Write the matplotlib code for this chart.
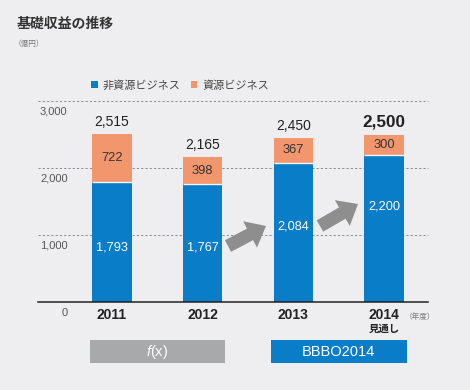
import matplotlib
matplotlib.use("Agg")
import matplotlib.pyplot as plt
import matplotlib.transforms as mtransforms
from matplotlib.patches import Rectangle, FancyArrowPatch, ArrowStyle

plt.rcParams['font.family'] = ['Liberation Sans', 'Noto Sans CJK JP', 'DejaVu Sans']
plt.rcParams['mathtext.fontset'] = 'custom'
plt.rcParams['mathtext.it'] = 'Liberation Sans:italic'
plt.rcParams['mathtext.rm'] = 'Liberation Sans'

# ---- data ----
years = ['2011', '2012', '2013', '2014']
non_resource = [1793, 1767, 2084, 2200]
resource = [722, 398, 367, 300]
totals = [2515, 2165, 2450, 2500]
y_ticks = [0, 1000, 2000, 3000]
y_tick_labels = ['0', '1,000', '2,000', '3,000']
legend_labels = ['非資源ビジネス', '資源ビジネス']
title = '基礎収益の推移'
unit = '（億円）'
year_unit = '（年度）'
forecast_note = '見通し'
box_labels = ['$f$(x)', 'BBBO2014']

# ---- style / layout ----
BG = '#EEEEF0'
BLUE = '#0A7DC9'
ORANGE = '#F2966E'
GRAY_BOX = '#A7A9AB'
ARROW = '#8E8E8E'
bar_w = 0.435
blue_label_pos = [821, 825, 1128, 1437]  # label anchor heights inside blue bars

W, H = 470, 390
fig = plt.figure(figsize=(W / 100, H / 100), dpi=100, facecolor=BG)
ax = fig.add_axes([38 / W, (H - 302.3) / H, (428 - 38) / W, (302.3 - 101.3) / H])
ax.set_facecolor(BG)
ax.set_xlim(-0.816, 3.484)
ax.set_ylim(0, 3000)
for s in ax.spines.values():
    s.set_visible(False)

x = list(range(len(years)))

# gridlines
for t in y_ticks[1:]:
    ax.axhline(t, color='#8A8A8A', lw=0.7, ls=(0, (2.2, 2.2)), zorder=0, clip_on=False)
ax.axhline(0, color='#222222', lw=1.1, zorder=3, clip_on=False)

b1 = ax.bar(x, non_resource, width=bar_w, color=BLUE, zorder=2, label=legend_labels[0])
b2 = ax.bar(x, resource, width=bar_w, bottom=non_resource, color=ORANGE, zorder=2,
            label=legend_labels[1])
ax.hlines(non_resource, [i - bar_w / 2 for i in x], [i + bar_w / 2 for i in x],
          color='#F4F4F4', lw=1.0, zorder=2.5)

# value labels
for i in x:
    ax.text(i, blue_label_pos[i], f'{non_resource[i]:,}', ha='center', va='center',
            color='white', fontsize=9.2, zorder=4)
    ax.text(i, non_resource[i] + resource[i] / 2, f'{resource[i]:,}', ha='center',
            va='center', color='#333333', fontsize=9.3, zorder=4)
    last = i == len(x) - 1
    off = mtransforms.offset_copy(ax.transData, fig=fig, y=12 if not last else 13, units='dots')
    ax.text(i, totals[i], f'{totals[i]:,}', ha='center', va='center', transform=off,
            color='#222222', fontsize=12.3 if last else 10, fontweight='bold' if last else 'normal',
            zorder=4)

# y tick labels (below the gridlines)
ytrans = mtransforms.offset_copy(ax.transData, fig=fig, y=-10.5, units='dots')
for t, lab in zip(y_ticks, y_tick_labels):
    ax.text(-0.49, t, lab, ha='right', va='center', transform=ytrans, fontsize=8,
            color='#555555')

# x tick labels
ax.set_xticks(x)
ax.set_xticklabels(years, fontsize=10, fontweight='bold', color='#222222')
ax.tick_params(axis='x', length=0, pad=4)
ax.set_yticks([])

blend = mtransforms.blended_transform_factory(ax.transData, ax.transAxes)
ax.text(x[-1], -0.13, forecast_note, transform=blend, ha='center', va='center',
        fontsize=7.5, fontweight='bold', color='#222222')
ax.text(x[-1] + 0.23, -0.072, year_unit, transform=blend, ha='left', va='center',
        fontsize=5.5, color='#777777')

# arrows between bars
astyle = ArrowStyle.Simple(head_length=0.65, head_width=1.07, tail_width=0.47)
for (xa, ya), (xb, yb) in [((1.279, 840), (1.698, 1139)), ((2.293, 1139), (2.712, 1467))]:
    ax.add_patch(FancyArrowPatch((xa, ya), (xb, yb), arrowstyle=astyle, mutation_scale=20,
                                 color=ARROW, lw=0, shrinkA=0, shrinkB=0, zorder=3))

# boxes below
ext = 0.03
for (i0, i1), col, lab in [((0, 1), GRAY_BOX, box_labels[0]), ((2, 3), BLUE, box_labels[1])]:
    x0 = x[i0] - bar_w / 2 - ext
    x1 = x[i1] + bar_w / 2 + ext
    ax.add_patch(Rectangle((x0, -0.3005), x1 - x0, 0.1115, transform=blend, color=col,
                           lw=0, clip_on=False))
    ax.text((x0 + x1) / 2, -0.245, lab, transform=blend, ha='center', va='center',
            fontsize=10.5, color='white')

# legend
fig.legend(handles=[b1, b2], labels=legend_labels, loc='center left',
           bbox_to_anchor=(91 / W, (H - 85.5) / H), ncol=2, frameon=False, fontsize=8,
           handlelength=0.6, handleheight=0.6, handletextpad=0.45, columnspacing=0.9,
           borderpad=0, borderaxespad=0, labelcolor='#444444')

# title
fig.text(17 / W, (H - 23.5) / H, title, ha='left', va='center', fontsize=10,
         fontweight='bold', color='#333333', family=['Noto Sans CJK JP'])
fig.text(14 / W, (H - 43.5) / H, unit, ha='left', va='center', fontsize=5.5,
         color='#777777', family=['Noto Sans CJK JP'])

fig.savefig('out.png', dpi=100, facecolor=BG)
